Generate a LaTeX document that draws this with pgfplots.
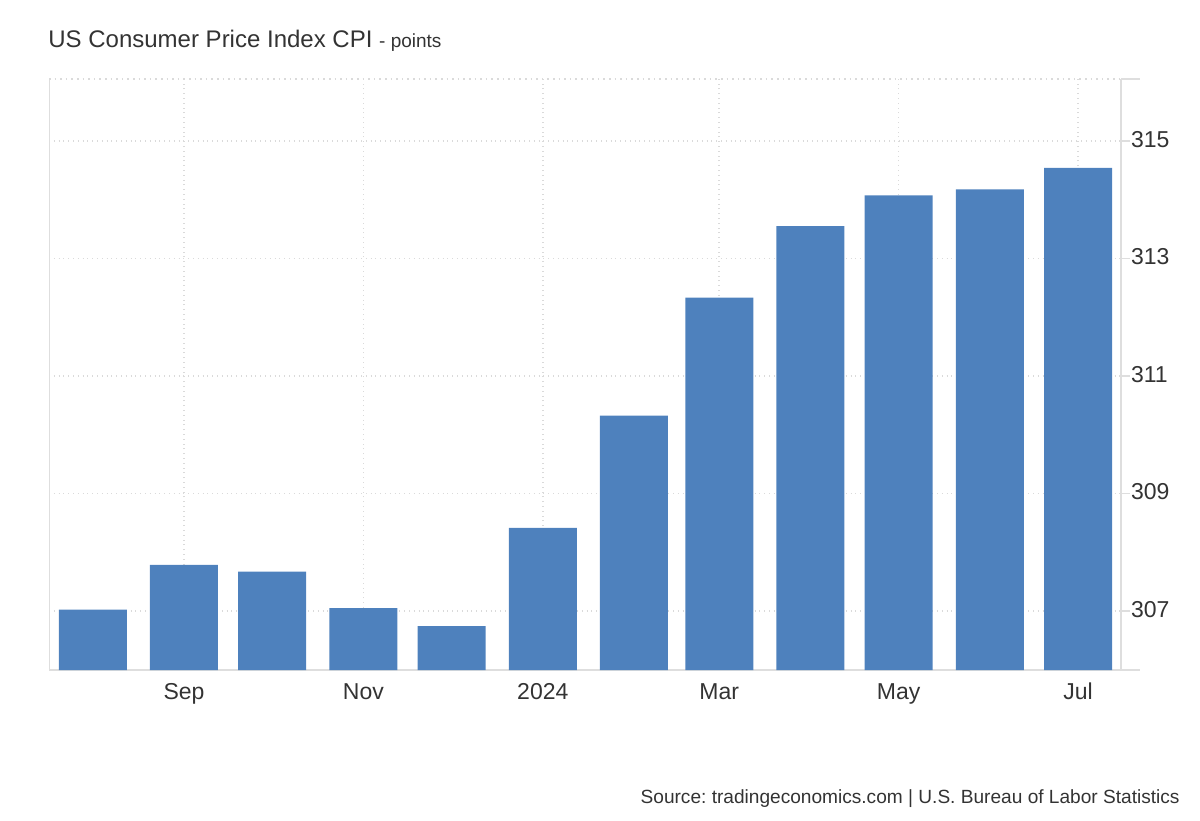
\documentclass[border=0pt]{standalone}
\usepackage{pgfplots}
\pgfplotsset{compat=1.18}
\usepackage{fontspec}
\setmainfont{Liberation Sans}
\frenchspacing
\definecolor{cBar}{RGB}{78,129,189}
\definecolor{cGrid}{RGB}{218,218,218}
\definecolor{cAxis}{RGB}{222,222,222}
\definecolor{cText}{RGB}{51,51,51}

% days since 1 Aug 2023, CPI (points)
\pgfplotstableread{
day value
0   307.026
31  307.789
61  307.671
92  307.051
122 306.746
153 308.417
184 310.326
213 312.332
244 313.548
274 314.069
305 314.175
335 314.540
}\cpi

\begin{document}
\begin{tikzpicture}[x=1pt,y=1pt]
\path[use as bounding box] (0,0) rectangle (600,410);
\begin{axis}[
    at={(24.5pt,75pt)}, anchor=south west,
    scale only axis, width=536pt, height=295.5pt,
    xmin=-14.9, xmax=349.6, ymin=306.0, ymax=316.05,
    axis x line*=bottom, axis y line*=right,
    axis line style={cAxis, line width=1pt, -},
    xtick={31,92,153,213,274,335},
    xticklabels={Sep,Nov,2024,Mar,May,Jul},
    ytick={307,309,311,313,315},
    x tick style={draw=none},
    y tick style={cAxis, line width=0.8pt},
    major tick length=4.5pt,
    tick align=outside,
    xmajorgrids, ymajorgrids,
    major grid style={cGrid, dotted, line width=0.8pt},
    ticklabel style={font=\fontsize{11.5}{13}\selectfont, text=cText},
    xticklabel style={anchor=north, inner sep=0pt, text height=8.3pt, text depth=0pt, yshift=-1.8pt},
    yticklabel style={xshift=-3pt, yshift=0.8pt},
    /pgf/number format/assume math mode=true,
    ybar, bar width=34pt,
    clip=true,
]
\addplot[fill=cBar, draw=none] table[x=day, y=value] {\cpi};
\draw[cAxis, line width=1pt] (rel axis cs:0,0) -- (rel axis cs:0,1);
\draw[cGrid, dotted, line width=0.8pt] (rel axis cs:0,1) -- (rel axis cs:1,1);
\end{axis}
\draw[cAxis, line width=1pt] (560.5,75) -- (570,75);
\draw[cAxis, line width=1pt] (560.5,370.5) -- (570,370.5);
\node[anchor=base west, inner sep=0, text=cText] at (24,386)
  {\fontsize{12}{14}\selectfont US Consumer Price Index CPI \fontsize{9.5}{11}\selectfont - points};
\node[anchor=base east, inner sep=0, text=cText] at (590,8.5)
  {\fontsize{9.55}{12}\selectfont Source: tradingeconomics.com | U.S. Bureau of Labor Statistics};
\end{tikzpicture}
\end{document}
